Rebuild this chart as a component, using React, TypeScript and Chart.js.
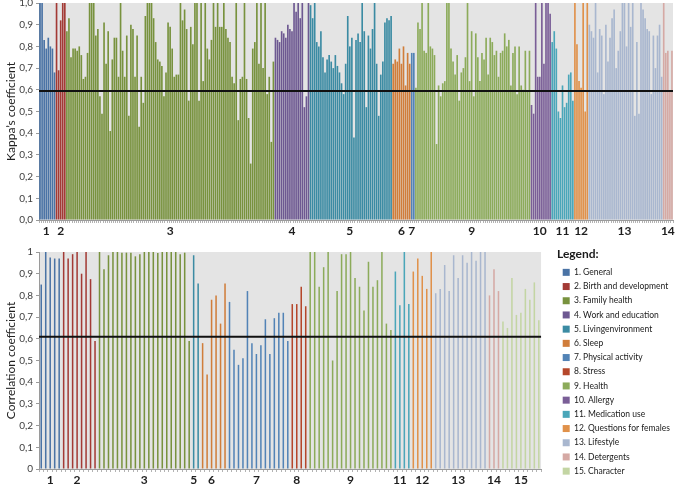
import React, { useEffect, useRef } from 'react';
import { Chart, registerables } from 'chart.js';
Chart.register(...registerables);

const FONT = 'Lato, "Open Sans", sans-serif';

const groupNames = [
  '1. General', '2. Birth and development', '3. Family health', '4. Work and education',
  '5. Livingenvironment', '6. Sleep', '7. Physical activity', '8. Stress', '9. Health',
  '10. Allergy', '11. Medication use', '12. Questions for females', '13. Lifestyle',
  '14. Detergents', '15. Character',
];
const groupColors = [
  '#4a73a5', '#a33a35', '#78923e', '#6d5891', '#3b8ba3', '#d07d3a', '#5283b6', '#b5472b',
  '#8cab5a', '#7a5e97', '#4aa6b9', '#e0914a', '#a9b7cf', '#d5a9a4', '#c3d5a3',
];

// ---- Kappa's coefficient (top panel) ----
const kappaGroups = [1, 2, 3, 4, 5, 6, 7, 9, 10, 11, 12, 13, 14];
const kappa1 = [1.0, 1.0, 0.83, 0.79, 0.84, 0.80, 0.79, 0.68];
const kappa2 = [1.0, 0.69, 0.92, 1.0, 1.0];
const kappa3 = [
  0.87, 0.93, 0.75, 0.79, 0.79, 0.78, 0.80, 0.76, 0.65, 0.66,
  0.77, 1.0, 1.0, 1.0, 0.85, 0.88, 0.57, 0.49, 0.91, 0.72,
  0.87, 0.41, 0.74, 0.84, 0.84, 0.66, 1.0, 0.78, 0.66, 0.85,
  0.48, 0.90, 0.88, 0.66, 0.85, 0.43, 0.66, 0.54, 0.94, 1.0,
  1.0, 1.0, 0.93, 0.82, 0.74, 0.73, 0.71, 0.57, 0.68, 0.91,
  0.89, 0.79, 0.66, 0.67, 0.67, 1.0, 0.92, 0.97, 0.88, 0.55,
  0.89, 0.81, 1.0, 1.0, 0.55, 1.0, 0.64, 1.0, 0.79, 0.74,
  0.83, 1.0, 0.89, 1.0, 0.89, 0.89, 1.0, 0.88,
  0.84, 0.82, 0.66, 0.63, 1.0, 0.46, 0.65, 0.66, 1.0, 0.65,
  0.47, 0.26, 0.79, 0.82, 1.0, 0.72, 1.0, 0.70, 1.0, 0.58,
  0.66, 0.36, 0.73,
];
const kappa4 = [0.84, 0.83, 0.82, 0.87, 0.86, 0.84, 0.90, 0.88, 0.87, 1.0, 0.96, 1.0, 0.93, 1.0, 0.52, 0.57, 1.0];
const kappa5 = [
  0.99, 0.93, 1.0, 0.82, 0.80, 0.87, 0.75, 0.68, 0.74, 0.76,
  0.73, 0.70, 0.76, 0.71, 0.68, 0.63, 0.58, 0.72, 0.94, 0.80,
  0.84, 0.38, 0.83, 0.86, 0.82, 1.0, 0.87, 0.52, 0.85, 0.79,
  0.88, 1.0, 0.72, 0.48, 0.67, 0.73, 0.91, 0.93, 0.92, 0.94,
];
const kappa6 = [0.72, 0.74, 0.73, 0.79, 0.72, 0.80, 0.62, 0.77, 0.72];
const kappa7 = [0.77, 0.77];
const kappa9 = [
  0.61, 0.91, 0.88, 1.0, 0.78, 0.77, 1.0, 0.80, 0.79, 0.76, 0.35, 0.62,
  0.57, 0.63, 0.64, 1.0, 1.0, 0.79, 0.73, 0.67, 0.76, 0.55,
  0.68, 0.70, 0.75, 1.0, 0.64, 0.87, 0.57, 0.86, 0.75, 0.64,
  0.77, 0.74, 0.84, 0.67, 0.84, 0.82, 0.76, 0.78, 0.66, 0.77,
  0.78, 0.86, 0.80, 0.83, 0.62, 0.77, 0.80, 0.58, 0.80, 0.62,
  0.60, 0.78, 0.59, 0.78,
];
const kappa10 = [0.53, 0.49, 1.0, 0.66, 0.66, 1.0, 0.72, 1.0, 1.0, 0.95];
const kappa11 = [0.82, 0.87, 0.79, 0.50, 0.47, 0.62, 0.52, 0.54, 0.67, 0.68, 0.55];
const kappa12 = [1.0, 0.81, 0.64, 0.61, 1.0, 0.50, 1.0];
const kappa13 = [
  0.90, 0.87, 0.84, 1.0, 0.68, 0.88, 0.85, 0.58, 0.90, 0.73,
  0.84, 0.93, 0.97, 0.70, 0.78, 0.87, 1.0, 1.0, 0.80, 1.0,
  0.89, 1.0, 0.48, 0.82, 0.49, 1.0, 0.97, 0.93, 0.88, 0.87,
  0.58, 0.85, 0.70, 0.85, 0.90, 0.66,
];
const kappa14 = [1.0, 0.77, 0.78, 0.59, 0.78];
const kappaValues = [kappa1, kappa2, kappa3, kappa4, kappa5, kappa6, kappa7, kappa9, kappa10, kappa11, kappa12, kappa13, kappa14];
const kappaThreshold = 0.595;

// ---- Correlation coefficient (bottom panel) ----
const corrGroups = [1, 2, 3, 5, 6, 7, 8, 9, 11, 12, 13, 14, 15];
const corr1 = [0.85, 1.0, 0.975, 0.97, 0.97];
const corr2 = [1.0, 0.97, 0.99, 1.0, 0.90, 1.0, 0.875, 0.59];
const corr3 = [1.0, 0.92, 0.985, 1.0, 1.0, 0.997, 0.997, 0.997, 0.98, 0.99, 1.0, 1.0, 1.0, 0.995, 1.0, 1.0, 1.0, 1.0, 0.99, 0.997, 0.59];
const corr5 = [0.985, 0.855];
const corr6 = [0.58, 0.436, 0.78, 0.80, 0.67, 0.855];
const corr7 = [0.77, 0.55, 0.48, 0.51, 0.82, 0.58, 0.53, 0.57, 0.69, 0.53, 0.695, 0.72, 0.72, 0.59];
const corr8 = [0.76, 0.76, 0.84, 0.75];
const corr9 = [1.0, 1.0, 0.84, 0.93, 1.0, 0.50, 0.82, 0.99, 0.99, 1.0, 0.88, 0.84, 0.73, 0.955, 0.84, 0.87, 1.0, 0.67, 0.64];
const corr11 = [0.91, 0.755, 1.0, 0.76];
const corr12 = [0.91, 0.97, 0.89, 0.83, 1.0];
const corr13 = [0.81, 0.83, 0.94, 0.82, 0.985, 0.88, 0.985, 0.95, 1.0, 0.96, 1.0, 1.0];
const corr14 = [0.80, 0.92, 0.82];
const corr15 = [0.68, 0.65, 0.88, 0.71, 0.72, 0.83, 0.78, 0.86, 0.685];
const corrValues = [corr1, corr2, corr3, corr5, corr6, corr7, corr8, corr9, corr11, corr12, corr13, corr14, corr15];
const corrThreshold = 0.61;

function flatten(ids: number[], groups: number[][]) {
  const values: number[] = [];
  const colors: string[] = [];
  const labels: string[] = [];
  groups.forEach((vals, gi) => {
    const mid = Math.floor((vals.length - 1) / 2);
    vals.forEach((v, i) => {
      values.push(v);
      colors.push(groupColors[ids[gi] - 1]);
      labels.push(i === mid ? String(ids[gi]) : '');
    });
  });
  return { values, colors, labels };
}

const bgPlugin = {
  id: 'plotBg',
  beforeDraw(chart: any) {
    const { ctx, chartArea } = chart;
    if (!chartArea) return;
    ctx.save();
    ctx.fillStyle = '#e4e4e4';
    ctx.fillRect(chartArea.left, chartArea.top, chartArea.right - chartArea.left, chartArea.bottom - chartArea.top);
    ctx.restore();
  },
};

function thresholdPlugin(value: number) {
  return {
    id: 'threshold',
    afterDatasetsDraw(chart: any) {
      const { ctx, chartArea } = chart;
      const y = chart.scales.y.getPixelForValue(value);
      ctx.save();
      ctx.strokeStyle = '#111';
      ctx.lineWidth = 2;
      ctx.beginPath();
      ctx.moveTo(chartArea.left, y);
      ctx.lineTo(chartArea.right, y);
      ctx.stroke();
      ctx.restore();
    },
  };
}

const legendShift = {
  id: 'legendShift',
  afterLayout(chart: any) {
    const lg = chart.legend;
    if (!lg) return;
    const dx = 557 - lg.left;
    lg.left += dx;
    lg.right += dx;
  },
};

function baseScales(titleText: string, fmt: (v: number) => string, xHeight: number, yPadTop: number) {
  return {
    x: {
      grid: { display: true, drawOnChartArea: false, drawTicks: true, tickLength: 3, color: '#b3b3b3' },
      border: { display: true, color: '#9a9a9a' },
      ticks: {
        autoSkip: false, maxRotation: 0, minRotation: 0, padding: 1,
        color: '#1e1e1e', font: { family: FONT, size: 12, weight: 'bold' },
      },
      afterFit: (s: any) => { s.height = xHeight; s.paddingLeft = 0; s.paddingRight = 0; },
    },
    y: {
      min: 0, max: 1,
      ticks: {
        stepSize: 0.1, padding: 3, color: '#404040', font: { family: FONT, size: 10 },
        callback: (v: any) => fmt(Number(v)),
      },
      grid: { display: true, drawOnChartArea: false, drawTicks: true, tickLength: 3, color: '#9a9a9a' },
      border: { display: true, color: '#9a9a9a' },
      title: {
        display: true, text: titleText, color: '#222',
        font: { family: FONT, size: 12 }, padding: { top: 4, bottom: 0 },
      },
      afterFit: (s: any) => { s.width = 39; s.paddingTop = yPadTop; s.paddingBottom = 0; },
    },
  };
}

export default function App() {
  const topRef = useRef<HTMLCanvasElement>(null);
  const botRef = useRef<HTMLCanvasElement>(null);

  useEffect(() => {
    const top = flatten(kappaGroups, kappaValues);
    const bot = flatten(corrGroups, corrValues);

    const topChart = new Chart(topRef.current as HTMLCanvasElement, {
      type: 'bar',
      data: {
        labels: top.labels,
        datasets: [{ data: top.values, backgroundColor: top.colors, borderWidth: 0, barPercentage: 0.8, categoryPercentage: 1 }],
      },
      options: {
        animation: false, responsive: false, events: [],
        layout: { padding: { top: 3, right: 3, left: 0, bottom: 0 } },
        plugins: { legend: { display: false }, tooltip: { enabled: false } },
        scales: baseScales('Kappa\u2019s coefficient', (v) => v.toFixed(1).replace('.', ','), 20, 0) as any,
      },
      plugins: [bgPlugin, thresholdPlugin(kappaThreshold)],
    });

    const botChart = new Chart(botRef.current as HTMLCanvasElement, {
      type: 'bar',
      data: {
        labels: bot.labels,
        datasets: [{ data: bot.values, backgroundColor: bot.colors, borderWidth: 0, barPercentage: 0.34, categoryPercentage: 1 }],
      },
      options: {
        animation: false, responsive: false, events: [],
        layout: { padding: { top: 0, right: 12, left: 0, bottom: 0 } },
        plugins: {
          tooltip: { enabled: false },
          legend: {
            display: true, position: 'right', align: 'start',
            onClick: () => {},
            title: {
              display: true, text: 'Legend:', position: 'start', color: '#1a1a1a',
              font: { family: FONT, size: 12, weight: 'bold' }, padding: { top: 8, bottom: 0 },
            },
            labels: {
              boxWidth: 7, boxHeight: 7, padding: 5.7, color: '#3a3a3a',
              font: { family: FONT, size: 8.5 },
              generateLabels: () => groupNames.map((n, i) => ({
                text: n, fillStyle: groupColors[i], strokeStyle: groupColors[i], lineWidth: 0,
                hidden: false, index: i, datasetIndex: 0,
              })),
            },
          } as any,
        },
        scales: baseScales('Correlation coefficient', (v) => (v === 0 ? '0' : v === 1 ? '1' : v.toFixed(1).replace('.', ',')), 17, 12) as any,
      },
      plugins: [bgPlugin, thresholdPlugin(corrThreshold), legendShift],
    });

    return () => { topChart.destroy(); botChart.destroy(); };
  }, []);

  return (
    <div style={{ position: 'absolute', left: 0, top: 0, width: 676, height: 486, background: '#fff' }}>
      <canvas ref={topRef} width={676} height={240} style={{ position: 'absolute', left: 0, top: 0, display: 'block' }} />
      <canvas ref={botRef} width={676} height={246} style={{ position: 'absolute', left: 0, top: 240, display: 'block' }} />
    </div>
  );
}
